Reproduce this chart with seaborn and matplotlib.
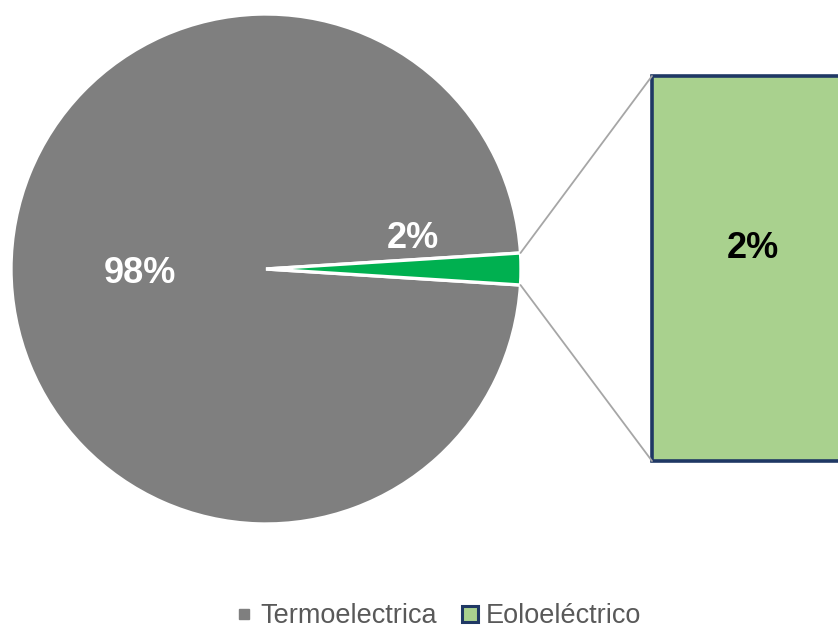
import matplotlib
matplotlib.use("Agg")
import matplotlib.pyplot as plt
from matplotlib.patches import ConnectionPatch
from matplotlib.lines import Line2D
import numpy as np
import pandas as pd
import seaborn as sns

categories = ["Termoelectrica", "Eoloeléctrico"]
values = [98, 2]
pie_labels = ["98%", "2%"]
bar_category = ["Eoloeléctrico"]
bar_values = [2]
bar_label = "2%"

sns.set_theme(style="white")
plt.rcParams['font.family'] = ['Liberation Sans', 'DejaVu Sans']

W, H = 838, 630
fig = plt.figure(figsize=(W / 100, H / 100), dpi=100)

cx, cy, r = 266, 269, 255
ax = fig.add_axes([(cx - r) / W, (H - cy - r) / H, 2 * r / W, 2 * r / H])
ang = values[1] / sum(values) * 360 / 2
ax.pie(values, colors=["#7F7F7F", "#00B050"], startangle=ang, counterclock=True,
       radius=1, wedgeprops=dict(edgecolor="white", linewidth=2.4))
ax.set_xlim(-1, 1)
ax.set_ylim(-1, 1)
ax.axis("off")
ax.text(-0.494, -0.017, pie_labels[0], color="white", fontsize=26, fontweight="bold",
        ha="center", va="center")
ax.text(0.576, 0.118, pie_labels[1], color="white", fontsize=26, fontweight="bold",
        ha="center", va="center")

# bar of pie
bx0, by0, by1 = 652, 76, 461
bw = 300
bax = fig.add_axes([bx0 / W, (H - by1) / H, bw / W, (by1 - by0) / H])
df = pd.DataFrame({"cat": bar_category, "val": bar_values})
sns.barplot(data=df, x="cat", y="val", ax=bax, color="#A9D18E", saturation=1,
            width=1.0, edgecolor="#1F3864", linewidth=2.6)
for p in bax.patches:
    p.set_clip_on(False)
    p.set_facecolor("#A9D18E")
bax.set_xlim(-0.5, 0.5)
bax.set_ylim(0, bar_values[0])
bax.axis("off")
bax.text(0.0 - 0.5 + (753 - bx0) / bw, bar_values[0] * (1 - (249 - by0) / (by1 - by0)),
         bar_label, fontsize=26, fontweight="bold", color="black", ha="center", va="center")

# connector lines
a = np.deg2rad(ang)
for sgn, yv in [(1, bar_values[0]), (-1, 0)]:
    con = ConnectionPatch(xyA=(np.cos(a), sgn * np.sin(a)), coordsA=ax.transData,
                          xyB=(-0.5, yv), coordsB=bax.transData,
                          color="#A6A6A6", linewidth=1.3)
    fig.add_artist(con)

handles = [
    Line2D([], [], marker="s", linestyle="none", markersize=7, markerfacecolor="#7F7F7F",
           markeredgecolor="#7F7F7F"),
    Line2D([], [], marker="s", linestyle="none", markersize=11, markerfacecolor="#A9D18E",
           markeredgecolor="#1F3864", markeredgewidth=2.2),
]
leg = fig.legend(handles, categories, loc="center", bbox_to_anchor=(0.522, 0.022),
                 ncol=2, frameon=False, fontsize=19.5, handletextpad=0.2, columnspacing=0.8,
                 handlelength=0.8, borderpad=0.1)
for t in leg.get_texts():
    t.set_color("#595959")

fig.savefig("out.png", dpi=100)
